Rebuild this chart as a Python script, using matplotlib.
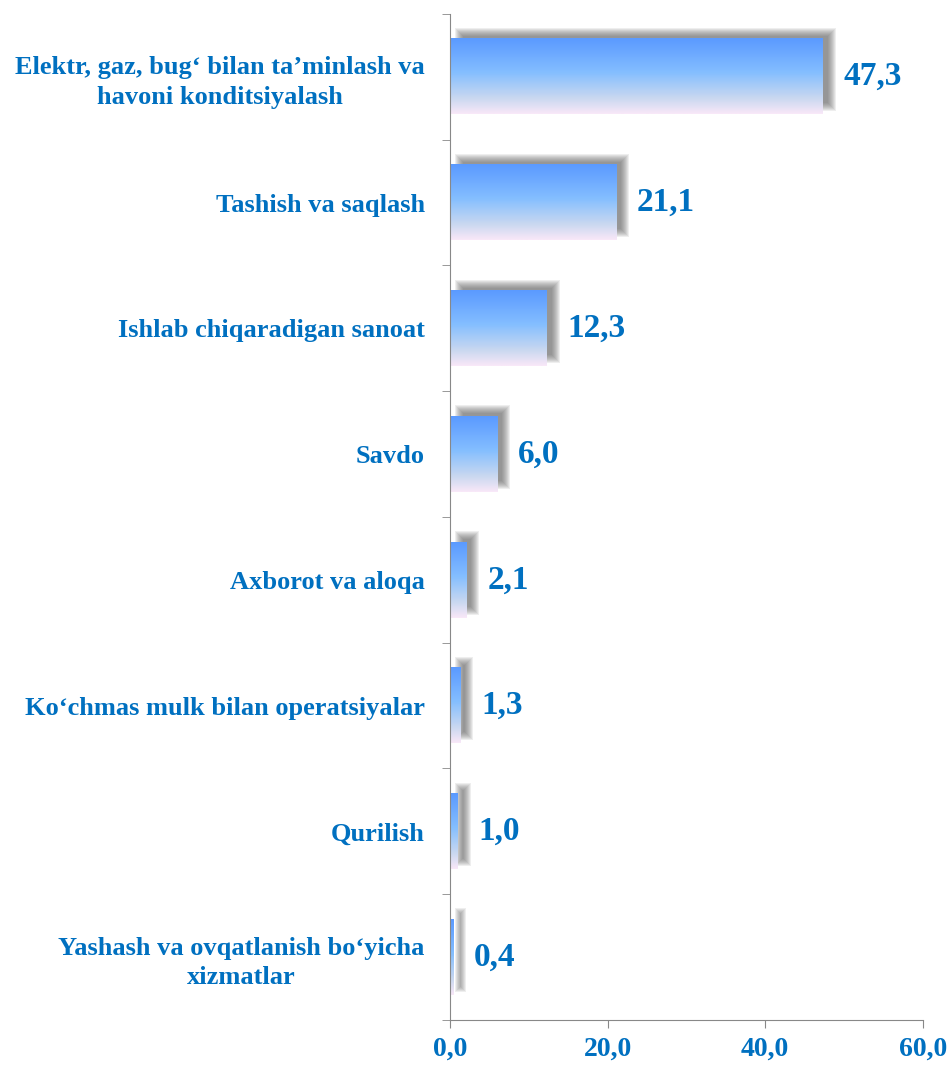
import numpy as np
import matplotlib.pyplot as plt
from matplotlib.colors import LinearSegmentedColormap
from matplotlib.patches import Rectangle

categories = ["Elektr, gaz, bug‘ bilan ta’minlash va\nhavoni konditsiyalash",
              "Tashish va saqlash",
              "Ishlab chiqaradigan sanoat",
              "Savdo",
              "Axborot va aloqa",
              "Ko‘chmas mulk bilan operatsiyalar",
              "Qurilish",
              "Yashash va ovqatlanish bo‘yicha\nxizmatlar"]
values = [47.3, 21.1, 12.3, 6.0, 2.1, 1.3, 1.0, 0.4]
value_labels = ["47,3", "21,1", "12,3", "6,0", "2,1", "1,3", "1,0", "0,4"]
xticks = [0, 20, 40, 60]
xtick_labels = ["0,0", "20,0", "40,0", "60,0"]

blue = "#0070c0"
plt.rcParams['font.family'] = ['Liberation Serif', 'DejaVu Serif']
plt.rcParams['font.weight'] = 'bold'

fig = plt.figure(figsize=(9.51, 10.66), dpi=100)
ax = fig.add_axes([0.473, 0.0432, 0.4975, 0.9438])

n = len(values)
ax.set_xlim(0, 60)
ax.set_ylim(n - 0.5, -0.5)

cmap = LinearSegmentedColormap.from_list("g", [(0, "#5b9aff"), (0.45, "#84beff"),
                                               (0.8, "#cad8f0"), (1, "#f8e8f8")])
grad = np.linspace(0, 1, 64).reshape(-1, 1)
h = 0.6
ux = 60 / 473      # data units per pixel (x)
uy = 1 / 125.75    # data units per pixel (y)
for i, v in enumerate(values):
    # blurred shadow, shifted right and up
    x0 = 9 * ux
    y0 = i - h / 2 - 7 * uy
    for r in range(-4, 5):
        w = v + 2 * r * ux
        hh = h + 2 * r * uy
        if w <= 0:
            continue
        ax.add_patch(Rectangle((x0 - r * ux, y0 - r * uy), w, hh,
                               facecolor="#5a5a5a", alpha=0.1, edgecolor="none", zorder=1))
    ax.imshow(grad, extent=(0, v, i + h / 2, i - h / 2), cmap=cmap, aspect="auto", zorder=2)
    ax.annotate(value_labels[i], (v, i), xytext=(15, 0), textcoords="offset points",
                ha="left", va="center", fontsize=24, fontweight="bold", color=blue)

ax.set_yticks(range(n))
ax.set_yticklabels(categories, fontsize=19, fontweight="bold", color=blue,
                   multialignment="center", linespacing=1.35)
ax.tick_params(axis="y", length=0, pad=18)
ax.set_yticks(np.arange(-0.5, n, 1), minor=True)
ax.tick_params(axis="y", which="minor", length=6, color="#888888")

ax.set_xticks(xticks)
ax.set_xticklabels(xtick_labels, fontsize=20, fontweight="bold", color=blue)
ax.tick_params(axis="x", length=6, color="#888888", pad=6)

for s in ["top", "right"]:
    ax.spines[s].set_visible(False)
for s in ["left", "bottom"]:
    ax.spines[s].set_color("#888888")

fig.savefig("out.png", dpi=100)
